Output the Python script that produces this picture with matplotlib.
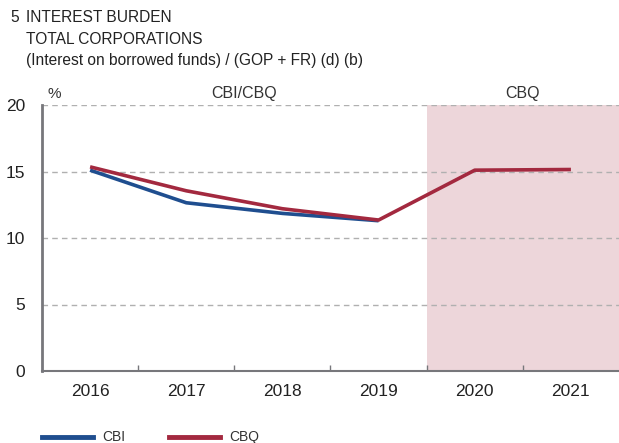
"""
Interest burden chart, CBI vs CBQ.
"""

import matplotlib.pyplot as plt
from matplotlib.ticker import FixedLocator

plt.rcParams['font.family'] = ['Liberation Sans', 'DejaVu Sans']

years = ['2016', '2017', '2018', '2019', '2020', '2021']
cbi = [15.1, 12.65, 11.85, 11.3]
cbq = [15.35, 13.55, 12.2, 11.35, 15.1, 15.15]
y_ticks = [0, 5, 10, 15, 20]

blue = '#1f4e8f'
red = '#a3293f'
grey = '#77777b'

fig = plt.figure(figsize=(6.19, 4.43), dpi=100)
ax = fig.add_axes([42 / 619, 1 - 371 / 443, 1 - 42 / 619, (371 - 105) / 443])

ax.axvspan(3.5, 5.5, color='#edd6da', lw=0, zorder=0)
for y in y_ticks[1:]:
    ax.axhline(y, color='#b0b0b0', lw=1, ls=(0, (4, 3)), zorder=1)

x = list(range(len(years)))
ax.plot(x[:len(cbi)], cbi, color=blue, lw=2.6, solid_capstyle='butt', zorder=3)
ax.plot(x, cbq, color=red, lw=2.6, solid_capstyle='butt', zorder=4)

ax.set_xlim(-0.5, 5.5)
ax.set_ylim(0, 20)
ax.set_xticks(x)
ax.set_xticklabels(years, fontsize=12.5, color='#222222')
ax.xaxis.set_minor_locator(FixedLocator([0.5, 1.5, 2.5, 3.5, 4.5]))
ax.tick_params(axis='x', which='major', length=0, pad=9)
ax.tick_params(axis='x', which='minor', direction='in', length=4, color=grey, width=1)
ax.set_yticks(y_ticks)
ax.set_yticklabels([str(v) for v in y_ticks], fontsize=12.5, color='#222222')
ax.tick_params(axis='y', length=0, pad=12)

for side in ['top', 'right']:
    ax.spines[side].set_visible(False)
ax.spines['left'].set_color(grey)
ax.spines['left'].set_linewidth(2)
ax.spines['bottom'].set_color(grey)
ax.spines['bottom'].set_linewidth(1.5)

ax.text(-0.375, 20.3, '%', fontsize=11, color='#333333', ha='center', va='bottom')
ax.text(1.6, 20.3, 'CBI/CBQ', fontsize=11.5, color='#333333', ha='center', va='bottom')
ax.text(4.5, 20.3, 'CBQ', fontsize=11.5, color='#333333', ha='center', va='bottom')

fig.text(10 / 619, 1 - 18 / 443, '5', fontsize=11.2, color='#222222', va='center')
fig.text(26 / 619, 1 - 18 / 443, 'INTEREST BURDEN', fontsize=11.2, color='#222222', va='center')
fig.text(26 / 619, 1 - 40 / 443, 'TOTAL CORPORATIONS', fontsize=11.2, color='#222222', va='center')
fig.text(26 / 619, 1 - 61 / 443, '(Interest on borrowed funds) / (GOP + FR) (d) (b)',
         fontsize=11.2, color='#222222', va='center')

# legend drawn by hand under the axis
leg_y = 1 - 437 / 443
fig.add_artist(plt.Line2D([42 / 619, 93 / 619], [leg_y, leg_y], color=blue, lw=3.5))
fig.text(102 / 619, leg_y, 'CBI', fontsize=10, color='#333333', va='center',
         family=['Liberation Sans Narrow', 'Liberation Sans'])
fig.add_artist(plt.Line2D([169 / 619, 220 / 619], [leg_y, leg_y], color=red, lw=3.5))
fig.text(229 / 619, leg_y, 'CBQ', fontsize=10, color='#333333', va='center',
         family=['Liberation Sans Narrow', 'Liberation Sans'])

fig.savefig('out.png', dpi=100)
plt.close(fig)
